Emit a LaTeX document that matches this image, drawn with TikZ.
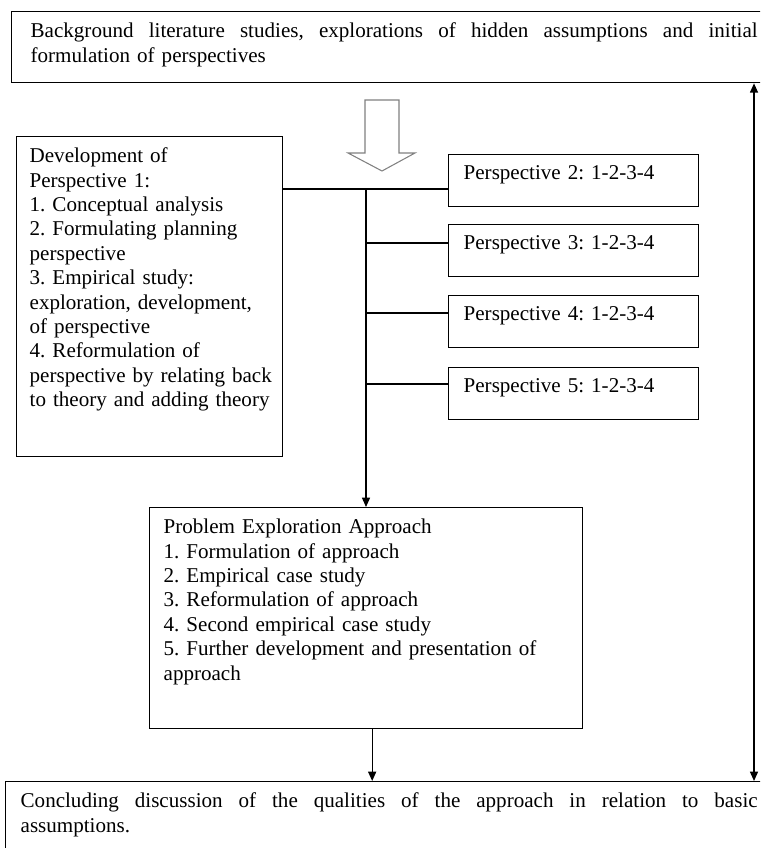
\documentclass[tikz,border=0pt]{standalone}
\usepackage{fontspec}
\setmainfont{Liberation Serif}
\usepackage{tikz}
\usetikzlibrary{arrows.meta}
\frenchspacing
\newcommand{\fullline}[2]{\hbox to #1{\spaceskip=0.25em plus 1fil #2}}

\tikzset{
  box/.style={draw, line width=1pt, anchor=north west, align=left, inner ysep=0pt,
    text height=19.5pt, font=\fontsize{15.8}{18.3}\selectfont},
  persp/.style={box, inner xsep=11.25pt, text width=165pt, text height=18.75pt, text depth=20.25pt},
  link/.style={line width=1pt, -{Triangle[length=7pt,width=6pt]}}
}

\begin{document}
\begin{tikzpicture}[x=0.75pt, y=-0.75pt]
\useasboundingbox (0,0) rectangle (760,848);
\clip (0,0) rectangle (760,848);
\node[box, inner xsep=14.25pt, text width=545.25pt, text depth=33.75pt] (top) at (11,11)
  {\fullline{545.25pt}{Background literature studies, explorations of hidden assumptions and initial}\\
   formulation of perspectives};
\node[box, inner xsep=9.75pt, text width=180pt, text depth=220.5pt] (p1) at (16,136)
  {Development of\\ Perspective 1:\\ 1. Conceptual analysis\\ 2. Formulating planning\\
   perspective\\ 3. Empirical study:\\ exploration, development,\\ of perspective\\
   4. Reformulation of\\ \mbox{perspective by relating back}\\ \mbox{to theory and adding theory}};
\node[persp] (p2) at (448,154) {Perspective 2: 1-2-3-4};
\node[persp] (p3) at (448,224) {Perspective 3: 1-2-3-4};
\node[persp] (p4) at (448,295) {Perspective 4: 1-2-3-4};
\node[persp] (p5) at (448,367) {Perspective 5: 1-2-3-4};
\node[box, inner xsep=10.5pt, text width=303.75pt, text depth=146.25pt] (prob) at (149,507)
  {Problem Exploration Approach\\ 1. Formulation of approach\\ 2. Empirical case study\\
   3. Reformulation of approach\\ 4. Second empirical case study\\
   5. Further development and presentation of\\ approach};
\node[box, inner xsep=11.25pt, text width=552.75pt, text depth=45pt] (concl) at (5,781)
  {\fullline{552.75pt}{Concluding discussion of the qualities of the approach in relation to basic}\\
   assumptions.};
\draw[line width=0.8pt, draw=gray] (365,100) -- (399,100) -- (399,153) -- (415,153)
  -- (382,171) -- (348,153) -- (365,153) -- cycle;
\coordinate (trunk) at (366,189);
\coordinate (side) at (754,0);
\draw[line width=1pt] (p1.east |- trunk) -- (p2.west |- trunk);
\foreach \n/\y in {3/243, 4/313, 5/384}
  \draw[line width=1pt] (trunk |- 0,\y) -- (p\n.west |- 0,\y);
\draw[link] (trunk) -- (trunk |- prob.north);
\draw[link] ([xshift=4.5pt]prob.south) -- ([xshift=4.5pt]prob.south |- concl.north);
\draw[link, {Triangle[length=7pt,width=6pt]}-{Triangle[length=7pt,width=6pt]}]
  (top.south -| side) -- (concl.north -| side);
\end{tikzpicture}
\end{document}
